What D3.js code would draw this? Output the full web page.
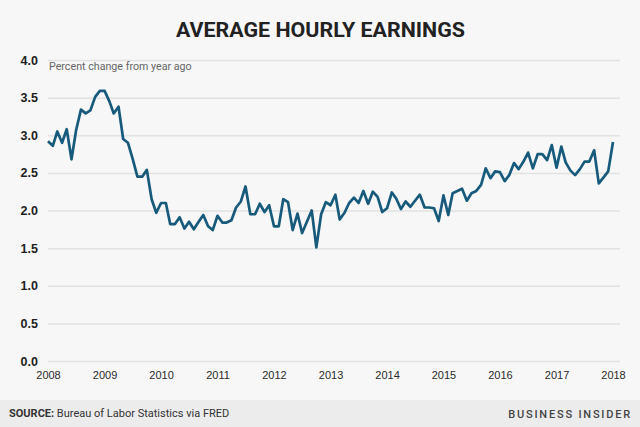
<!DOCTYPE html>
<html>
<head>
<meta charset="utf-8">
<script src="https://cdn.jsdelivr.net/npm/d3@7"></script>
<style>
  html, body { margin: 0; padding: 0; background: #f7f7f7; }
  svg { display: block; font-family: Roboto, "Noto Sans", sans-serif; }
</style>
</head>
<body>
<div id="svg-container"></div>
<script>
// monthly % change from year ago, Jan 2008 .. Jan 2018
const startMonth = '2008-01-01';
const earnings = [
  2.92, 2.86, 3.05, 2.90, 3.08, 2.68, 3.07, 3.34, 3.29, 3.33, 3.51, 3.59,
  3.59, 3.45, 3.29, 3.38, 2.95, 2.90, 2.69, 2.45, 2.45, 2.54, 2.15, 1.97,
  2.10, 2.10, 1.82, 1.82, 1.91, 1.76, 1.85, 1.75, 1.85, 1.94, 1.79, 1.74,
  1.93, 1.84, 1.84, 1.87, 2.04, 2.12, 2.32, 1.95, 1.95, 2.09, 1.98, 2.07,
  1.79, 1.79, 2.15, 2.11, 1.74, 1.96, 1.70, 1.85, 2.00, 1.51, 1.95, 2.11,
  2.07, 2.21, 1.88, 1.97, 2.10, 2.17, 2.10, 2.26, 2.09, 2.25, 2.18, 1.98,
  2.03, 2.24, 2.16, 2.02, 2.12, 2.05, 2.13, 2.21, 2.04, 2.04, 2.03, 1.86,
  2.20, 1.94, 2.23, 2.26, 2.29, 2.13, 2.23, 2.26, 2.34, 2.56, 2.43, 2.52,
  2.51, 2.39, 2.47, 2.63, 2.55, 2.65, 2.77, 2.56, 2.75, 2.75, 2.67, 2.87,
  2.57, 2.85, 2.64, 2.53, 2.47, 2.55, 2.65, 2.65, 2.80, 2.36, 2.44, 2.52,
  2.91,
];
const yTicks = [0, 0.5, 1, 1.5, 2, 2.5, 3, 3.5, 4];
const xTickYears = [2008, 2009, 2010, 2011, 2012, 2013, 2014, 2015, 2016, 2017, 2018];

const WIDTH = 640;
const HEIGHT = 427;
const LEFT = 48;
const RIGHT = 613;
const GRID_RIGHT = 620;
const TOP = 60;
const BOTTOM = 361;

const svg = d3.create('svg').attr('width', WIDTH).attr('height', HEIGHT);

svg.append('rect').attr('width', WIDTH).attr('height', HEIGHT).attr('fill', '#f7f7f7');

const start = new Date(startMonth + 'T00:00:00');
const dataset = earnings.map((v, i) => ({ date: d3.timeMonth.offset(start, i), value: v }));

const xScale = d3
  .scaleTime()
  .domain([new Date(2008, 0, 1), new Date(2018, 0, 1)])
  .range([LEFT, RIGHT]);
const yScale = d3.scaleLinear().domain([0, 4]).range([BOTTOM, TOP]);

// y axis + gridlines
const yAxis = svg
  .append('g')
  .attr('transform', `translate(${LEFT}, 0)`)
  .call(
    d3.axisLeft(yScale)
      .tickValues(yTicks)
      .tickFormat(d3.format('.1f'))
      .tickSize(-(GRID_RIGHT - LEFT))
      .tickPadding(10)
  );
yAxis.select('.domain').remove();
yAxis.selectAll('line').attr('stroke', '#e2e2e2').attr('stroke-width', 1.5);
yAxis.selectAll('text')
  .attr('fill', '#1e1e1e')
  .attr('font-size', 12.5)
  .attr('font-weight', 'bold');

// x axis
const xAxis = svg
  .append('g')
  .attr('transform', `translate(0, ${BOTTOM})`)
  .call(
    d3.axisBottom(xScale)
      .tickValues(xTickYears.map((y) => new Date(y, 0, 1)))
      .tickFormat(d3.timeFormat('%Y'))
      .tickSize(0)
      .tickPadding(10)
  );
xAxis.select('.domain').remove();
xAxis.selectAll('text')
  .attr('fill', '#2a2a2a')
  .attr('font-size', 11)
  .attr('font-weight', 500);

// line
const line = d3
  .line()
  .x((d) => xScale(d.date))
  .y((d) => yScale(d.value));

svg
  .append('path')
  .datum(dataset)
  .attr('d', line)
  .attr('fill', 'none')
  .attr('stroke', '#175a7b')
  .attr('stroke-width', 2.7)
  .attr('stroke-linejoin', 'round');

// title + subtitle
svg
  .append('text')
  .attr('x', 320.5)
  .attr('y', 37)
  .attr('text-anchor', 'middle')
  .attr('font-size', 20)
  .attr('font-weight', 'bold')
  .attr('fill', '#222')
  .attr('textLength', 289)
  .attr('lengthAdjust', 'spacingAndGlyphs')
  .text('AVERAGE HOURLY EARNINGS');

svg
  .append('text')
  .attr('x', 49)
  .attr('y', 70)
  .attr('font-size', 10.7)
  .attr('fill', '#666')
  .text('Percent change from year ago');

// footer
svg.append('rect').attr('x', 0).attr('y', 400).attr('width', WIDTH).attr('height', HEIGHT - 400).attr('fill', '#ececec');

const source = svg
  .append('text')
  .attr('x', 9)
  .attr('y', 417)
  .attr('font-size', 11)
  .attr('fill', '#333');
source.append('tspan').attr('font-weight', 'bold').text('SOURCE:');
source.append('tspan').text(' Bureau of Labor Statistics via FRED');

svg
  .append('text')
  .attr('x', 632)
  .attr('y', 418)
  .attr('text-anchor', 'end')
  .attr('font-size', 11)
  .attr('font-weight', 500)
  .attr('letter-spacing', 1.8)
  .attr('fill', '#444')
  .text('BUSINESS INSIDER');

document.getElementById('svg-container').appendChild(svg.node());
</script>
</body>
</html>
